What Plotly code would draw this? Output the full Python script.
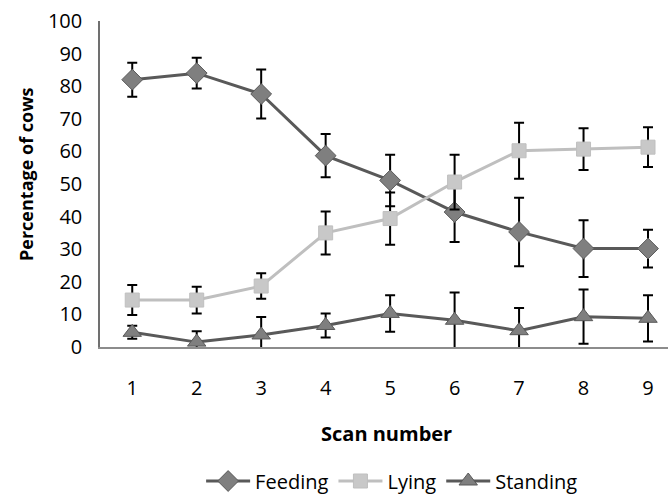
import plotly.graph_objects as go

scans = [1, 2, 3, 4, 5, 6, 7, 8, 9]
feeding = [82, 84, 77.6, 58.7, 51.1, 41.4, 35.3, 30.2, 30.2]
feeding_err = [5.2, 4.7, 7.5, 6.6, 7.9, 9.2, 10.5, 8.7, 5.8]
lying = [14.4, 14.4, 18.7, 35.0, 39.4, 50.6, 60.2, 60.7, 61.3]
lying_err = [4.6, 4.1, 3.9, 6.6, 8.0, 8.4, 8.6, 6.4, 6.1]
standing = [4.5, 1.5, 3.7, 6.6, 10.3, 8.2, 5.0, 9.3, 8.8]
standing_err = [2.0, 3.3, 5.5, 3.7, 5.6, 8.5, 7.0, 8.3, 7.1]
y_ticks = [0, 10, 20, 30, 40, 50, 60, 70, 80, 90, 100]

FONT = "Open Sans"

def err(arr):
    return dict(type="data", array=arr, visible=True, color="black", thickness=2, width=5)

fig = go.Figure()
fig.add_trace(go.Scatter(
    x=scans, y=feeding, name="Feeding", mode="lines+markers",
    line=dict(color="#595959", width=3),
    marker=dict(symbol="diamond", size=16, color="#7f7f7f", line=dict(color="#595959", width=1)),
    error_y=err(feeding_err)))
fig.add_trace(go.Scatter(
    x=scans, y=lying, name="Lying", mode="lines+markers",
    line=dict(color="#bfbfbf", width=3),
    marker=dict(symbol="square", size=14, color="#c8c8c8", line=dict(color="#bfbfbf", width=1)),
    error_y=err(lying_err)))
fig.add_trace(go.Scatter(
    x=scans, y=standing, name="Standing", mode="lines+markers",
    line=dict(color="#595959", width=3),
    marker=dict(symbol="triangle-up", size=16, color="#7f7f7f", line=dict(color="#595959", width=1)),
    error_y=err(standing_err)))

fig.update_layout(
    width=668, height=497,
    margin=dict(l=100, r=0, t=21, b=150),
    paper_bgcolor="white", plot_bgcolor="white",
    font=dict(family=FONT, size=20, color="black"),
    showlegend=True,
    legend=dict(orientation="h", xref="container", yref="container",
                x=0.587, xanchor="center", y=(497 - 481) / 497, yanchor="middle",
                font=dict(family=FONT, size=20, color="black"), itemwidth=44,
                tracegroupgap=0),
    xaxis=dict(range=[0.5, 9.31], tickmode="array", tickvals=scans,
               ticktext=[str(s) for s in scans], showgrid=False, zeroline=False,
               showline=True, linecolor="#8c8c8c", linewidth=1.5, ticks="",
               ticklabelstandoff=22, tickfont=dict(family=FONT, size=20)),
    yaxis=dict(range=[0, 100], tickvals=y_ticks, showgrid=False, zeroline=False,
               showline=True, linecolor="#707070", linewidth=1.5, ticks="",
               ticklabelstandoff=12, tickfont=dict(family=FONT, size=20)),
    annotations=[
        dict(text="<b>Scan number</b>", xref="paper", yref="paper", x=(386 - 100) / 568,
             y=(347 - 433) / 326, xanchor="center", yanchor="middle", showarrow=False,
             font=dict(family=FONT, size=20, color="black")),
        dict(text="<b>Percentage of cows</b>", xref="paper", yref="paper", x=(26 - 100) / 568,
             y=(347 - 174) / 326, xanchor="center", yanchor="middle", showarrow=False,
             textangle=-90, font=dict(family=FONT, size=18, color="black")),
    ],
)

fig.write_html("out.html")
